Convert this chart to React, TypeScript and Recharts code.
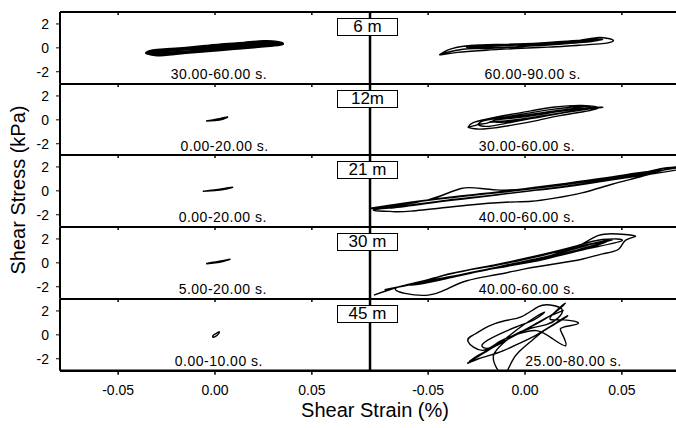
import React from 'react';
import { LineChart, Line, XAxis, YAxis, ReferenceDot, ReferenceLine } from 'recharts';

// panel names and time windows
const depths = ['6 m', '12m', '21 m', '30 m', '45 m'];
const earlyWindows = ['30.00-60.00 s.', '0.00-20.00 s.', '0.00-20.00 s.', '5.00-20.00 s.', '0.00-10.00 s.'];
const lateWindows = ['60.00-90.00 s.', '30.00-60.00 s.', '40.00-60.00 s.', '40.00-60.00 s.', '25.00-80.00 s.'];
const earlyLabelX = [0.002, 0.005, 0.004, 0.004, 0.002];
const lateLabelX = [0.004, 0.001, 0.001, 0.001, 0.025];

const strainTicks = [-0.05, 0, 0.05];
const stressTicks = [-2, -1, 0, 1, 2];

// [shear strain %, shear stress kPa]
const early6m = [
  [-0.0356, -0.45], [-0.03, -0.62], [-0.02, -0.5], [-0.01, -0.35], [0, -0.22], [0.01, -0.08], [0.02, 0.05],
  [0.03, 0.2], [0.035, 0.32], [0.032, 0.5], [0.025, 0.55], [0.015, 0.42], [0.005, 0.3], [-0.005, 0.15],
  [-0.015, 0.0], [-0.025, -0.12], [-0.032, -0.22], [-0.0356, -0.45], [-0.03, -0.5], [-0.015, -0.32],
  [0, -0.12], [0.015, 0.05], [0.028, 0.2], [0.03, 0.42], [0.02, 0.38], [0.005, 0.18], [-0.01, 0.0],
  [-0.025, -0.2], [-0.033, -0.35], [-0.02, -0.4], [-0.005, -0.2], [0.01, 0.0], [0.025, 0.15], [0.034, 0.4],
  [0.025, 0.45], [0.01, 0.25], [-0.005, 0.05], [-0.02, -0.1], [-0.03, -0.3], [-0.025, -0.45], [-0.01, -0.25],
  [0.005, -0.05], [0.02, 0.12], [0.03, 0.3], [0.02, 0.28], [0.005, 0.1], [-0.01, -0.05], [-0.025, -0.25],
  [-0.034, -0.5],
];
const early12m = [[-0.0046, -0.1], [0, -0.05], [0.004, 0.05], [0.0065, 0.24], [0.003, 0.12], [-0.001, 0.0], [-0.0046, -0.1]];
const early21m = [[-0.0063, -0.04], [0, 0.02], [0.005, 0.12], [0.0091, 0.3], [0.004, 0.18], [-0.002, 0.05], [-0.0063, -0.04]];
const early30m = [[-0.0046, -0.08], [0, 0.0], [0.004, 0.1], [0.0077, 0.3], [0.003, 0.15], [-0.001, 0.05], [-0.0046, -0.08]];
const early45m = [[-0.0012, -0.22], [0.001, -0.05], [0.0022, 0.25], [0.0005, 0.1], [-0.001, -0.05], [-0.0012, -0.22]];

const late6m = [
  [-0.044, -0.57], [-0.04, -0.2], [-0.035, 0.05], [-0.028, 0.2], [-0.015, 0.28], [0, 0.35], [0.015, 0.45],
  [0.028, 0.62], [0.037, 0.85], [0.043, 0.78], [0.0456, 0.58], [0.04, 0.35], [0.028, 0.22], [0.012, 0.06],
  [-0.005, -0.06], [-0.02, -0.2], [-0.035, -0.38], [-0.044, -0.57], [-0.032, -0.12], [-0.015, 0.0],
  [0, 0.12], [0.015, 0.28], [0.03, 0.48], [0.04, 0.7], [0.032, 0.68], [0.018, 0.5], [0.003, 0.32],
  [-0.012, 0.2], [-0.025, 0.1], [-0.03, 0.05], [-0.02, -0.05], [-0.005, 0.08], [0.01, 0.22], [0.025, 0.4],
  [0.038, 0.62], [0.03, 0.55], [0.015, 0.38], [0, 0.25], [-0.015, 0.15], [-0.028, -0.05], [-0.01, 0.05],
  [0.005, 0.2], [0.02, 0.35], [0.035, 0.55], [0.028, 0.6], [0.012, 0.45], [-0.003, 0.28], [-0.018, 0.15],
  [-0.03, 0.08],
];
const late12m = [
  [-0.0293, -0.6], [-0.027, -0.25], [-0.02, 0.05], [-0.01, 0.38], [0.003, 0.75], [0.0155, 1.07], [0.0294, 1.21],
  [0.0378, 0.99], [0.03, 0.68], [0.018, 0.35], [0.0067, -0.04], [-0.006, -0.42], [-0.019, -0.73], [-0.026, -0.75],
  [-0.0293, -0.6], [-0.025, -0.45], [-0.022, -0.1], [-0.012, 0.2], [0, 0.52], [0.014, 0.88], [0.027, 1.1],
  [0.034, 1.05], [0.028, 0.8], [0.015, 0.45], [0.003, 0.1], [-0.01, -0.3], [-0.02, -0.55], [-0.024, -0.4],
  [-0.02, -0.3], [-0.015, 0.0], [-0.004, 0.3], [0.01, 0.62], [0.022, 0.9], [0.03, 0.98], [0.025, 0.75],
  [0.012, 0.42], [0, 0.1], [-0.012, -0.2], [-0.016, -0.05], [-0.006, 0.15], [0.006, 0.4], [0.02, 0.75],
  [0.034, 1.02], [0.04, 1.05], [0.03, 0.85], [0.016, 0.5], [0.004, 0.2], [-0.008, -0.05], [-0.018, -0.2],
];
const late21m = [
  [-0.0794, -1.5], [-0.065, -1.2], [-0.05, -0.75], [-0.04, -0.2], [-0.033, 0.2], [-0.026, 0.25], [-0.015, 0.08],
  [0, 0.15], [0.02, 0.55], [0.04, 1.0], [0.06, 1.5], [0.07, 1.85], [0.078, 2.0], [0.074, 1.85], [0.06, 1.2],
  [0.045, 0.55], [0.0294, -0.17], [0.015, -0.62], [0.0035, -0.87], [-0.01, -0.95], [-0.03, -1.2], [-0.059, -1.7],
  [-0.07, -1.72], [-0.078, -1.6], [-0.06, -1.2], [-0.04, -0.78], [-0.02, -0.42], [0, -0.05], [0.02, 0.32],
  [0.04, 0.8], [0.06, 1.28], [0.08, 1.8], [0.08, 1.95], [0.06, 1.45], [0.04, 0.95], [0.02, 0.5], [0, 0.1],
  [-0.02, -0.25], [-0.04, -0.6], [-0.06, -1.0], [-0.075, -1.35], [-0.07, -1.45], [-0.05, -1.05], [-0.03, -0.65],
  [-0.01, -0.25], [0.01, 0.15], [0.03, 0.6], [0.05, 1.1], [0.066, 1.55], [0.06, 1.55], [0.04, 1.05], [0.02, 0.6],
  [0, 0.18], [-0.02, -0.2], [-0.04, -0.55], [-0.06, -0.98], [-0.08, -1.45],
];
const late30m = [
  [-0.0725, -2.25], [-0.06, -1.85], [-0.045, -1.35], [-0.03, -0.9], [-0.015, -0.4], [0, 0.05], [0.015, 0.7],
  [0.028, 1.45], [0.038, 2.3], [0.048, 2.42], [0.057, 2.25], [0.052, 1.9], [0.0483, 1.14], [0.04, 0.75],
  [0.0294, 0.3], [0.015, -0.1], [0, -0.5], [-0.015, -1.0], [-0.03, -1.5], [-0.041, -2.25], [-0.05, -2.7],
  [-0.062, -2.55], [-0.066, -2.06], [-0.05, -1.55], [-0.035, -1.05], [-0.02, -0.55], [-0.005, -0.1], [0.01, 0.4],
  [0.025, 1.0], [0.04, 1.7], [0.045, 1.95], [0.035, 1.6], [0.02, 0.9], [0.005, 0.3], [-0.01, -0.2], [-0.025, -0.75],
  [-0.04, -1.3], [-0.055, -1.8], [-0.058, -1.75], [-0.04, -1.2], [-0.02, -0.6], [0, 0.0], [0.02, 0.7], [0.035, 1.35],
  [0.042, 1.8], [0.03, 1.45], [0.015, 0.85], [0, 0.3], [-0.02, -0.35], [-0.04, -0.95], [-0.048, -1.5], [-0.03, -0.9],
  [-0.01, -0.3], [0.01, 0.3], [0.03, 1.1], [0.05, 1.85], [0.04, 1.95], [0.025, 1.35], [0.005, 0.55], [-0.015, -0.15],
  [-0.035, -0.8], [-0.05, -1.4], [-0.065, -2.0], [-0.078, -2.7],
];
const late45m = [
  [-0.029, -2.25], [-0.024, -1.7], [-0.016, -1.0], [-0.008, -0.3], [0, 0.4], [0.008, 1.1], [0.014, 1.7], [0.018, 2.2],
  [0.0207, 2.64], [0.016, 2.0], [0.013, 1.3], [0.02, 1.25], [0.0276, 0.97], [0.02, 0.65], [0.019, 0.14], [0.021, -0.9],
  [0.014, -0.3], [0.006, 0.35], [-0.003, 0.1], [-0.013, -0.55], [-0.022, -1.3], [-0.0294, -0.55], [-0.026, 0.05],
  [-0.019, 0.7], [-0.01, 1.2], [-0.0017, 1.53], [0.0069, 2.36], [0.013, 2.5], [0.019, 2.15], [0.017, 1.4],
  [0.011, 0.85], [0.003, 0.55], [-0.006, -0.05], [-0.012, -0.8], [-0.016, -1.6], [-0.0155, -2.5], [-0.011, -3.3],
  [-0.007, -2.3], [-0.003, -1.4], [0.003, -0.55], [0.009, 0.25], [0.016, 0.95], [0.022, 1.6], [0.016, 1.0],
  [0.006, 0.0], [-0.004, -0.8], [-0.014, -1.5], [-0.024, -2.0], [-0.0294, -2.35], [-0.02, -1.4], [-0.012, -0.55],
  [-0.004, 0.45], [0.004, 1.35], [0.01, 1.9], [0.005, 1.3], [-0.004, 0.7], [-0.014, 0.0], [-0.022, -0.8],
  [-0.018, -1.1], [-0.008, -0.3], [0.002, 0.6], [0.012, 1.5], [0.02, 2.05],
];

const earlyLoops = [early6m, early12m, early21m, early30m, early45m];
const lateLoops = [late6m, late12m, late21m, late30m, late45m];

const FONT = '"Liberation Sans", Arial, Helvetica, sans-serif';
const TOP = 12;
const ROW_H = 71.7;
const PAD = 4;

const toPoints = (arr: number[][]) => arr.map(([x, y]) => ({ x, y }));

function WindowLabel({ viewBox, text }: any) {
  const cx = viewBox.x + viewBox.width / 2;
  const cy = viewBox.y + viewBox.height / 2;
  return (
    <text x={cx} y={cy} textAnchor="middle" dominantBaseline="central" fontSize={14}
      letterSpacing={0.5} fill="#000" fontFamily={FONT}>
      {text}
    </text>
  );
}

function Panel({ row, early }: { row: number; early: boolean }) {
  const isBottom = row === 4;
  const loop = toPoints(early ? earlyLoops[row] : lateLoops[row]);
  const width = early ? 372 : 350;
  const height = PAD + ROW_H + (isBottom ? 44 : PAD);
  return (
    <div style={{ position: 'absolute', left: early ? 0 : 330, top: TOP + row * ROW_H - PAD }}>
      <LineChart width={width} height={height}
        margin={{ top: PAD, right: early ? 2 : 0, bottom: isBottom ? 0 : PAD, left: 0 }}>
        <XAxis type="number" dataKey="x" domain={[-0.08, 0.08]} ticks={strainTicks} hide={!isBottom}
          height={44} allowDataOverflow tickSize={4} tickMargin={10}
          axisLine={{ stroke: '#000', strokeWidth: 2.5 }} tickLine={{ stroke: '#000', strokeWidth: 1.5 }}
          tick={{ fill: '#000', fontSize: 14, fontFamily: FONT }}
          tickFormatter={(v: number) => v.toFixed(2)} />
        <YAxis type="number" domain={[-3, 3]} ticks={stressTicks} width={early ? 60 : 40} allowDataOverflow
          tickSize={4} tickMargin={7}
          axisLine={{ stroke: '#000', strokeWidth: early ? 2 : 2.5 }} tickLine={{ stroke: '#000' }}
          tick={early ? { fill: '#000', fontSize: 14, fontFamily: FONT } : false}
          tickFormatter={(v: number) => (v % 2 === 0 ? String(v) : '')} />
        <ReferenceLine y={3} stroke="#000" strokeWidth={2.2} ifOverflow="visible" />
        {strainTicks.map((t) => (
          <ReferenceLine key={t} segment={[{ x: t, y: 3 }, { x: t, y: 2.75 }]} stroke="#000" strokeWidth={1.5} />
        ))}
        <Line data={loop} dataKey="y" type="natural" stroke="#000"
          strokeWidth={early && row === 0 ? 2.4 : 1.4} dot={false} isAnimationActive={false} />
        <ReferenceDot x={early ? earlyLabelX[row] : lateLabelX[row]} y={-2.15} r={1} fill="none" stroke="none"
          label={<WindowLabel text={early ? earlyWindows[row] : lateWindows[row]} />} />
      </LineChart>
    </div>
  );
}

export default function App() {
  const rows = [0, 1, 2, 3, 4];
  return (
    <div style={{ position: 'absolute', left: 0, top: 0, width: 676, height: 428, overflow: 'hidden',
      background: '#fff', fontFamily: FONT, color: '#000' }}>
      {rows.map((r) => <Panel key={`e${r}`} row={r} early />)}
      {rows.map((r) => <Panel key={`l${r}`} row={r} early={false} />)}
      {depths.map((d, r) => (
        <div key={d} style={{ position: 'absolute', left: 337, top: TOP + r * ROW_H + 6, width: 59, height: 16,
          border: '1px solid #000', background: '#fff', fontSize: 17, lineHeight: '16px', textAlign: 'center' }}>
          {d}
        </div>
      ))}
      <div style={{ position: 'absolute', left: 18, top: 190, transform: 'translate(-50%, -50%) rotate(-90deg)',
        fontSize: 20, whiteSpace: 'nowrap' }}>
        Shear Stress (kPa)
      </div>
      <div style={{ position: 'absolute', left: 375, top: 410, transform: 'translate(-50%, -50%)',
        fontSize: 20, whiteSpace: 'nowrap' }}>
        Shear Strain (%)
      </div>
    </div>
  );
}
